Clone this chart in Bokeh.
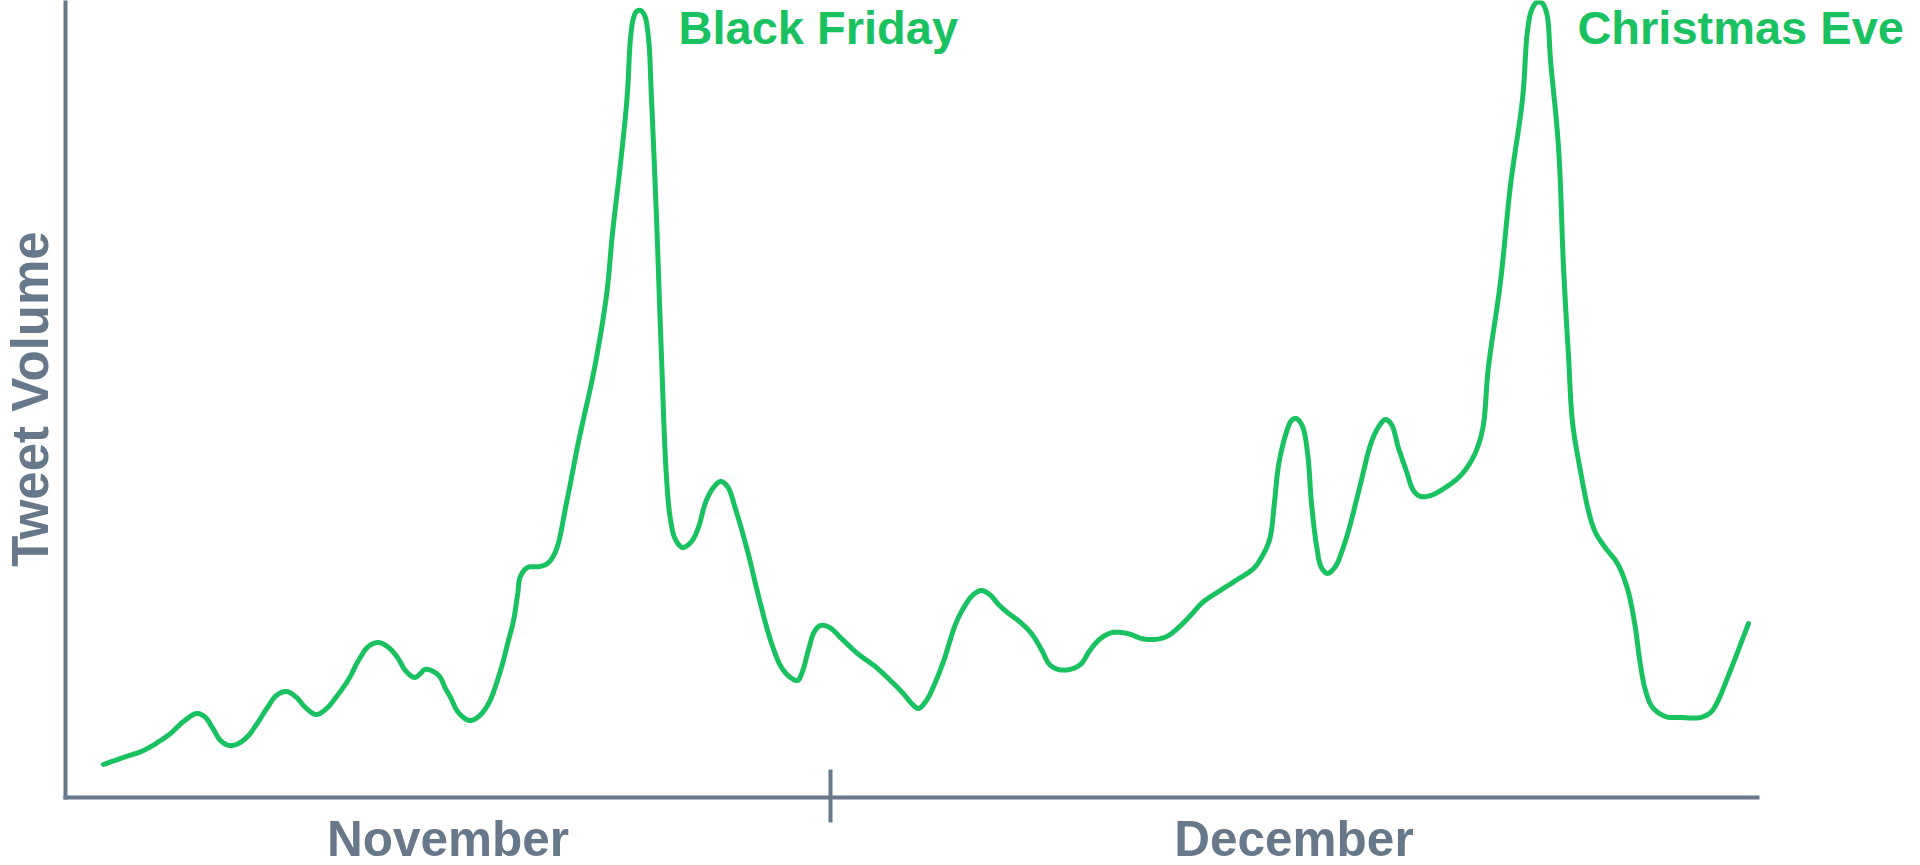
import math
import numpy as np
from bokeh.plotting import figure
from bokeh.models import Range1d, FixedTicker, Label, LinearAxis
from bokeh.embed import file_html
from bokeh.resources import INLINE

# ---- data (x: day index from Nov 1, Dec 1 = 30; y: relative tweet volume, 0-100) ----
days = [1.49, 2.27, 3.06, 3.73, 4.12, 4.63, 5.14, 5.45, 5.76, 6.08,
        6.43, 6.78, 7.14, 7.49, 7.92, 8.27, 8.67, 9.06, 9.41, 9.84,
        10.24, 10.63, 11.10, 11.49, 11.88, 12.27, 12.67, 13.02, 13.33, 13.69,
        13.92, 14.08, 14.35, 14.67, 14.90, 15.10, 15.41, 15.84, 16.20, 16.59,
        17.06, 17.37, 17.57, 17.73, 17.84, 18.12, 18.59, 18.90, 19.22, 19.65,
        20.12, 20.75, 21.22, 21.45, 21.73, 22.02, 22.16, 22.27, 22.39, 22.55,
        22.71, 22.86, 22.98, 23.18, 23.37, 23.57, 23.73, 23.92, 24.20, 24.55,
        24.82, 25.10, 25.41, 25.69, 25.96, 26.27, 26.75, 27.22, 27.69, 28.08,
        28.43, 28.71, 28.90, 29.14, 29.37, 29.61, 29.96, 30.47, 31.06, 31.80,
        32.39, 32.82, 33.22, 33.45, 33.76, 34.04, 34.43, 34.90, 35.25, 35.61,
        35.92, 36.24, 36.59, 36.94, 37.41, 37.88, 38.27, 38.59, 38.94, 39.37,
        39.80, 40.20, 40.59, 41.06, 41.65, 42.20, 42.67, 43.18, 43.65, 44.12,
        44.59, 45.22, 45.96, 46.59, 46.90, 47.22, 47.41, 47.57, 47.84, 48.08,
        48.27, 48.51, 48.71, 48.86, 49.06, 49.25, 49.49, 49.80, 50.08, 50.35,
        50.75, 51.22, 51.53, 51.76, 52.00, 52.27, 52.59, 52.86, 53.14, 53.53,
        54.12, 54.71, 55.22, 55.57, 55.80, 56.27, 56.67, 57.14, 57.33, 57.49,
        57.69, 57.88, 58.08, 58.24, 58.55, 58.75, 58.94, 59.10, 59.37, 59.76,
        60.00, 60.35, 60.86, 61.25, 61.53, 61.76, 61.96, 62.24, 62.75, 63.33,
        64.12, 64.51, 64.75, 65.29, 66.00]
volume = [4.14, 5.02, 5.90, 7.15, 8.03, 9.54, 10.54, 10.16, 8.78, 7.15,
          6.52, 6.78, 7.65, 9.16, 11.29, 12.80, 13.30, 12.55, 11.29, 10.41,
          11.17, 12.67, 14.81, 17.19, 18.95, 19.45, 18.82, 17.57, 15.93, 15.06,
          15.56, 16.06, 15.93, 15.18, 13.68, 12.55, 10.66, 9.66, 10.16, 11.79,
          15.93, 19.70, 22.21, 25.47, 27.73, 28.86, 28.98, 29.36, 30.87, 37.01,
          44.67, 53.95, 63.11, 70.77, 78.54, 87.70, 95.36, 97.74, 98.62, 98.75,
          98.12, 95.36, 87.70, 72.40, 55.46, 40.03, 34.76, 32.37, 31.37, 32.12,
          33.88, 37.01, 38.90, 39.65, 39.02, 36.26, 30.87, 24.72, 19.32, 16.31,
          15.06, 14.68, 15.81, 18.57, 20.83, 21.58, 21.33, 19.82, 18.07, 16.31,
          14.55, 13.17, 11.67, 11.17, 12.17, 13.93, 17.06, 21.71, 23.96, 25.47,
          25.97, 25.47, 24.22, 23.21, 22.08, 20.58, 18.57, 16.69, 16.06, 16.06,
          16.69, 18.57, 19.95, 20.70, 20.58, 19.95, 19.82, 20.20, 21.33, 22.84,
          24.47, 25.85, 27.35, 28.73, 30.11, 32.37, 37.01, 41.66, 45.42, 47.30,
          47.55, 46.55, 43.16, 37.01, 31.62, 28.86, 28.11, 28.98, 31.12, 33.88,
          38.90, 44.67, 46.68, 47.43, 46.80, 43.91, 40.90, 38.52, 37.77, 37.89,
          38.90, 40.40, 42.79, 46.17, 53.95, 64.62, 76.91, 87.70, 96.11, 98.75,
          99.75, 99.75, 98.49, 92.35, 81.56, 66.25, 55.46, 47.05, 41.66, 35.51,
          33.25, 31.49, 29.36, 26.22, 21.96, 16.69, 13.43, 11.29, 10.16, 10.04,
          10.04, 10.66, 11.79, 15.93, 21.83]

month_names = ["November", "December"]
month_start = [0, 30]
month_end = [30, 66.35]
events = ["Black Friday", "Christmas Eve"]
event_x = [24.04, 59.29]

GREEN = "#19C160"
GRAY = "#66788A"
FONT = "Liberation Sans"

W, H = 1920, 865
X0_PX, Y0_PX = 65, 797          # pixel position of the axes origin
PX_PER_DAY, PX_PER_UNIT = 25.5, 7.97


def smooth_path(xs, ys, n=10):
    """Centripetal Catmull-Rom rendering of the line through the data points."""
    P = np.column_stack([np.asarray(xs) * PX_PER_DAY, np.asarray(ys) * PX_PER_UNIT])
    P = np.vstack([2 * P[0] - P[1], P, 2 * P[-1] - P[-2]])
    out = []
    for i in range(1, len(P) - 2):
        p0, p1, p2, p3 = P[i - 1], P[i], P[i + 1], P[i + 2]
        t0 = 0.0
        t1 = t0 + max(np.linalg.norm(p1 - p0), 1e-6) ** 0.5
        t2 = t1 + max(np.linalg.norm(p2 - p1), 1e-6) ** 0.5
        t3 = t2 + max(np.linalg.norm(p3 - p2), 1e-6) ** 0.5
        for t in np.linspace(t1, t2, n, endpoint=False):
            a1 = (t1 - t) / (t1 - t0) * p0 + (t - t0) / (t1 - t0) * p1
            a2 = (t2 - t) / (t2 - t1) * p1 + (t - t1) / (t2 - t1) * p2
            a3 = (t3 - t) / (t3 - t2) * p2 + (t - t2) / (t3 - t2) * p3
            b1 = (t2 - t) / (t2 - t0) * a1 + (t - t0) / (t2 - t0) * a2
            b2 = (t3 - t) / (t3 - t1) * a2 + (t - t1) / (t3 - t1) * a3
            out.append((t2 - t) / (t2 - t1) * b1 + (t - t1) / (t2 - t1) * b2)
    out.append(P[-2])
    out = np.array(out)
    return out[:, 0] / PX_PER_DAY, out[:, 1] / PX_PER_UNIT


x_range = Range1d(-X0_PX / PX_PER_DAY, (W - X0_PX) / PX_PER_DAY)
y_range = Range1d(-(H - Y0_PX) / PX_PER_UNIT, Y0_PX / PX_PER_UNIT)

p = figure(width=W, height=H, output_backend="svg", toolbar_location=None,
           title=None, x_range=x_range, y_range=y_range,
           x_axis_type=None, y_axis_type=None,
           min_border=0, min_border_left=0, min_border_right=0,
           min_border_top=0, min_border_bottom=0, outline_line_color=None,
           background_fill_color="white", border_fill_color="white")
p.xgrid.visible = False
p.ygrid.visible = False

xaxis = LinearAxis(fixed_location=0, bounds=(0, month_end[-1]),
                   ticker=FixedTicker(ticks=[], minor_ticks=[month_start[1]]),
                   axis_line_color=GRAY, axis_line_width=4, axis_line_cap="square",
                   major_tick_line_color=None,
                   minor_tick_line_color=GRAY, minor_tick_line_width=4,
                   minor_tick_in=28, minor_tick_out=25)
p.add_layout(xaxis, "below")

yaxis = LinearAxis(fixed_location=0, bounds=(0, Y0_PX / PX_PER_UNIT),
                   ticker=FixedTicker(ticks=[]),
                   axis_line_color=GRAY, axis_line_width=4, axis_line_cap="square",
                   major_tick_line_color=None, minor_tick_line_color=None)
p.add_layout(yaxis, "left")

sx, sy = smooth_path(days, volume)
p.line(sx, sy, line_color=GREEN, line_width=5, line_cap="round", line_join="round")

for name, a, b in zip(month_names, month_start, month_end):
    p.add_layout(Label(x=(a + b) / 2, y=-5.12, text=name, text_align="center",
                       text_baseline="alphabetic", text_font=FONT,
                       text_font_size="49.5px", text_font_style="bold",
                       text_color=GRAY))

p.add_layout(Label(x=-1.39, y=50, text="Tweet Volume", angle=math.pi / 2,
                   text_align="center", text_baseline="alphabetic", text_font=FONT,
                   text_font_size="51px", text_font_style="bold", text_color=GRAY))

for name, ex in zip(events, event_x):
    p.add_layout(Label(x=ex, y=96.55, text=name, text_align="left",
                       text_baseline="alphabetic", text_font=FONT,
                       text_font_size="47px", text_font_style="bold",
                       text_color=GREEN))

open("out.html", "w").write(file_html(p, INLINE))
